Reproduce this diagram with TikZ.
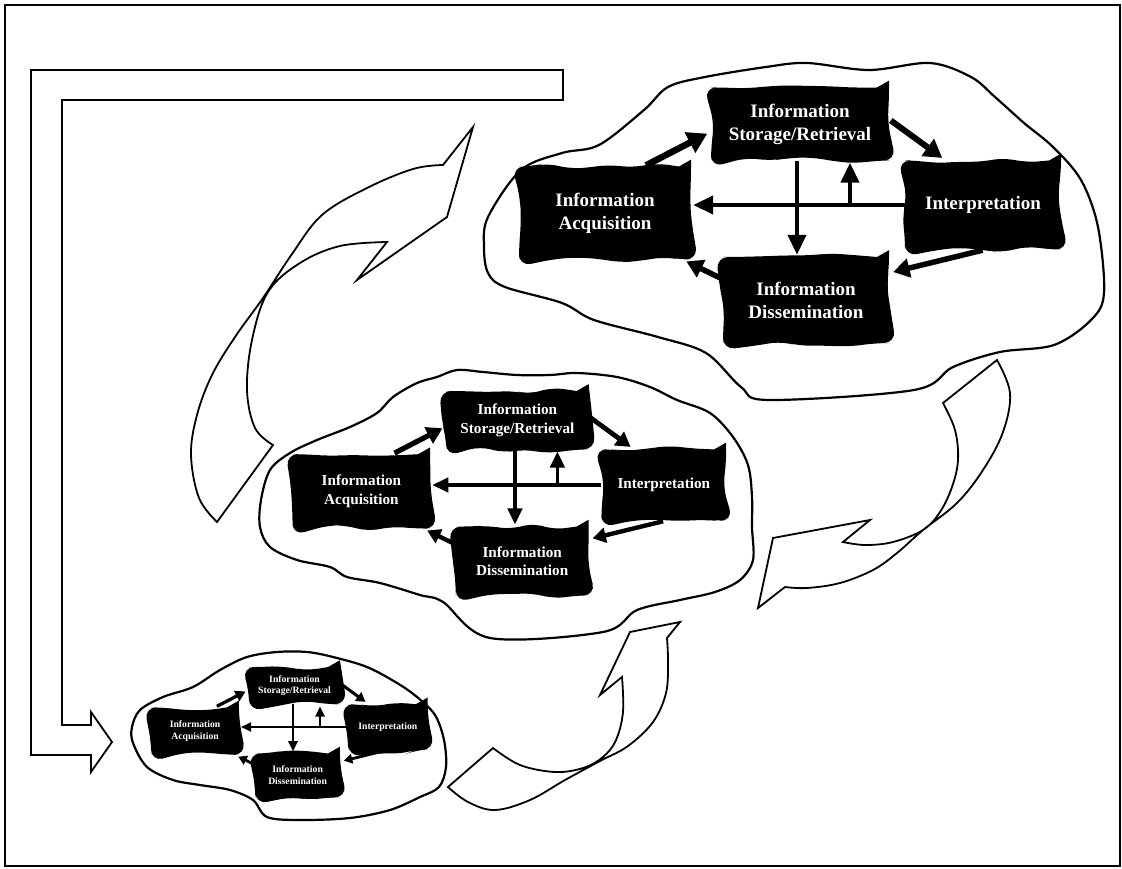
\documentclass[tikz,border=0pt]{standalone}
\usepackage{fontspec}
\setmainfont{Liberation Serif}
\usetikzlibrary{arrows.meta,decorations.pathmorphing}
\tikzset{
  blob/.style={fill=black, text=white, font=\bfseries\fontsize{19}{23}\selectfont, align=center, inner sep=0pt,
    decorate, decoration={random steps, segment length=22pt, amplitude=4pt}, rounded corners=12pt},
  flow/.style={-{Triangle[length=0pt 3, width=0pt 3.4]}, shorten >=4pt, shorten <=2pt},
  link/.style={-{Triangle[length=0pt 5, width=0pt 4.5]}},
  cloud/.style={line width=2.2pt, fill=white, line join=round},
  swoosh/.style={line width=1.8pt, line join=miter},
  frame/.style={line width=1.8pt}
}
\newcommand{\infocycle}[3]{%
  \begin{scope}[shift={#2}, scale=#3, transform shape]
    \coordinate (#1-x) at (0,0);
    \coordinate (#1-up) at (53,0);
    \node[blob, minimum width=178pt, minimum height=73pt] (#1-stor) at (3,-81) {Information\\Storage/Retrieval};
    \node[blob, minimum width=172pt, minimum height=93pt] (#1-acq) at (-192,8) {Information\\Acquisition};
    \node[blob, minimum width=156pt, minimum height=89pt] (#1-int) at (186,0) {Interpretation};
    \node[blob, minimum width=166pt, minimum height=86pt] (#1-dis) at (9,95) {Information\\Dissemination};
    \draw[flow, line width=#3*6.5pt] (#1-acq.50) -- (#1-stor.185);
    \draw[flow, line width=#3*6pt] (#1-stor.3) -- (#1-int.130);
    \draw[flow, line width=#3*5.5pt] (#1-int.272) -- (#1-dis.18);
    \draw[flow, line width=#3*5.5pt] (#1-dis.166) -- (#1-acq.-31);
    \draw[link, line width=#3*4pt, shorten >=2pt] (#1-int.west) -- (#1-int.west -| #1-acq.east);
    \draw[link, line width=#3*4pt, shorten >=2pt] (#1-stor.south -| #1-x) -- (#1-dis.north -| #1-x);
    \draw[link, line width=#3*4pt, shorten >=2pt] (#1-up) -- (#1-up |- #1-stor.south);
  \end{scope}}
\begin{document}
\begin{tikzpicture}[x=1pt, y=-1pt]
    \pgfmathsetseed{11}
    \useasboundingbox (0,0) rectangle (1122,869);
    \draw[frame] (5,5) rectangle (1120,866);
    \draw[frame] (31,755) -- (31,70) -- (563,70) -- (563,100) -- (62,100) -- (62,725) -- (91,725) -- (91,712) -- (112,742) -- (91,772) -- (91,755) -- cycle;

    \draw[swoosh] (217,522) -- plot[smooth, tension=0.6] coordinates {(217,522) (199,498) (191,455) (197,415) (212,375) (235,337) (263,298) (292,254) (322,215) (367,188) (413,169) (443,165)} -- (473,127) -- (447,217) -- (357,280) -- (387,242) -- plot[smooth, tension=0.6] coordinates {(387,242) (340,246) (300,263) (268,292) (252,340) (247,390) (255,428) (273,445)} -- cycle;
    \draw[swoosh] (997,360) -- plot[smooth, tension=0.6] coordinates {(997,360) (1010,393) (1003,432) (983,470) (957,503) (923,530) (897,553) (873,570) (840,583) (807,588) (785,587)} -- (758,608) -- (773,538) -- (870,520) -- (843,542) -- plot[smooth, tension=0.6] coordinates {(843,542) (865,545) (893,542) (923,530) (940,512) (952,487) (958,460) (955,430) (943,403)} -- cycle;
    \draw[swoosh] (448,787) -- (493,748) -- plot[smooth, tension=0.6] coordinates {(493,748) (520,765) (555,772) (583,768) (603,757) (616,740) (623,712) (622,677)} -- (600,695) -- (630,632) -- (680,622) -- (667,638) -- plot[smooth, tension=0.6] coordinates {(667,638) (668,662) (666,693) (653,722) (628,746) (600,761) (565,780) (530,800) (495,810) (468,802) (448,787)} -- cycle;

    \draw[cloud] plot[smooth cycle, tension=0.55] coordinates {(484,247) (488,217) (521,170) (562,153) (599,145) (644,110) (668,87) (705,77) (766,67) (807,63) (869,70) (930,63) (971,77) (995,97) (1024,123) (1053,147) (1081,180) (1098,227) (1104,293) (1091,320) (1054,345) (1000,352) (953,367) (914,390) (769,400) (741,387) (706,353) (658,337) (594,320) (562,303) (505,287) (488,273)};
    \draw[cloud] plot[smooth cycle, tension=0.55] coordinates {(261,500) (270,470) (290,453) (317,440) (350,427) (377,413) (393,397) (417,383) (437,377) (457,370) (483,372) (517,375) (550,375) (577,373) (617,377) (650,387) (677,400) (710,413) (733,437) (748,465) (752,497) (752,527) (753,560) (740,580) (715,592) (680,600) (637,610) (603,632) (490,638) (443,602) (420,595) (380,583) (347,577) (330,567) (297,560) (270,547) (260,527)};
    \draw[cloud] plot[smooth cycle, tension=0.55] coordinates {(132,727) (140,710) (163,697) (193,687) (220,670) (247,657) (277,652) (307,652) (333,657) (367,667) (397,683) (417,697) (435,715) (444,740) (446,767) (439,787) (420,797) (390,810) (350,818) (300,820) (267,817) (253,800) (230,790) (200,785) (173,780) (147,767) (133,743)};

    \infocycle{top}{(797,205)}{1}
    \infocycle{mid}{(515,485)}{0.8}
    \infocycle{low}{(293,727)}{0.51}
\end{tikzpicture}
\end{document}
